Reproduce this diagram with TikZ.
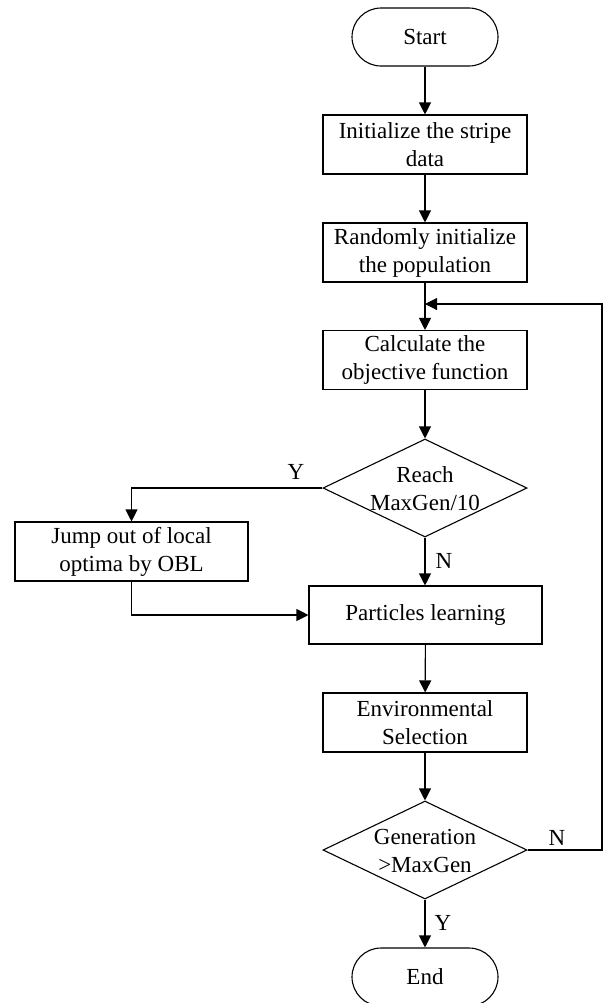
\documentclass[tikz,border=0pt]{standalone}
\usepackage{fontspec}
\setmainfont{Liberation Serif}
\usetikzlibrary{shapes.geometric,arrows.meta}
\begin{document}
\begin{tikzpicture}[x=0.5pt,y=-0.5pt,
  every node/.style={font=\fontsize{11.5}{14}\selectfont},
  box/.style={draw,line width=0.55pt,minimum width=102pt,minimum height=29.5pt,align=center,inner sep=0pt},
  term/.style={draw,line width=0.55pt,rounded corners=14.5pt,minimum width=73pt,minimum height=29pt,inner sep=0pt},
  dia/.style={draw,line width=0.55pt,diamond,minimum width=102pt,minimum height=49pt,inner sep=0pt},
  arr/.style={-{Triangle[length=6pt,width=6pt]},line width=0.55pt},
  lbl/.style={inner sep=0pt}]
\useasboundingbox (0,0) rectangle (604,1003);
\node[term] (start) at (425,37) {Start};
\node[box] (b1) at (425,144.5) {Initialize the stripe\\data};
\node[box] (b2) at (425,252.5) {Randomly initialize\\the population};
\node[box] (b3) at (425,360) {Calculate the\\objective function};
\node[dia] (d1) at (425,488) {};
\node[align=center] (d1t) at (425,489) {Reach\\MaxGen/10};
\node[box,minimum width=116.5pt] (jump) at (131.5,551.5) {Jump out of local\\optima by OBL};
\node[box,minimum width=116.5pt,minimum height=29pt] (pl) at (425.5,615) {Particles learning};
\node[box] (env) at (425,722.5) {Environmental\\Selection};
\node[dia] (d2) at (425,850) {};
\node[align=center] (d2t) at (425,851) {Generation\\>MaxGen};
\node[term] (end) at (425,977) {End};
\coordinate (loopin) at (425,304);
\coordinate (rc) at (602,304);
\draw[arr] (start) -- (b1);
\draw[arr] (b1) -- (b2);
\draw[arr] (b2) -- (b3);
\draw[arr] (b3) -- (d1);
\draw[arr] (d1.south) -- (d1.south |- pl.north);
\draw[arr] (pl) -- (env);
\draw[arr] (env) -- (d2);
\draw[arr] (d2) -- (end);
\draw[arr] (d1.west) -- (d1.west -| jump.north) -- (jump.north);
\draw[arr] (jump.south) -- (jump.south |- pl.west) -- (pl.west);
\draw[arr] (d2.east) -- (d2.east -| rc) -- (rc) -- (loopin);
\node[lbl] (y1) at (296,472) {Y};
\node[lbl] (n1) at (444,561) {N};
\node[lbl] (n2) at (557,838) {N};
\node[lbl] (y2) at (443,923) {Y};
\end{tikzpicture}
\end{document}
